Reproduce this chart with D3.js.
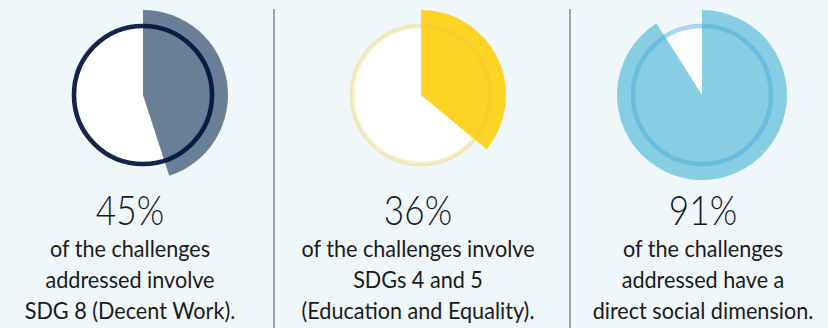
<!DOCTYPE html>
<html>
<head>
<meta charset="utf-8">
<script src="https://cdn.jsdelivr.net/npm/d3@7"></script>
<style>
  html, body { margin: 0; padding: 0; background: #f0f7fb; }
  svg { display: block; }
</style>
</head>
<body>
<svg id="chart" width="828" height="328"></svg>
<script>
// Share of challenges per theme
const labels = ["45%", "36%", "91%"];
const values = [45, 36, 91];
const captions = [
  ["of the challenges", "addressed involve", "SDG 8 (Decent Work)."],
  ["of the challenges involve", "SDGs 4 and 5", "(Education and Equality)."],
  ["of the challenges", "addressed have a", "direct social dimension."]
];
const sectorColors = ["#687f96", "#ffd324", "#87cee2"];
const ringColors = ["rgba(1,21,60,0.93)", "rgba(235,196,50,0.3)", "rgba(74,168,214,0.45)"];

const svg = d3.select("#chart");
const W = 828, H = 328;

// panel layout
const pieX = [143, 421, 702];
const textX = [130, 418, 703];
const pieY = 95;
const outerR = 85;
const diskR = 69;

const angle = d3.scaleLinear().domain([0, 100]).range([0, 2 * Math.PI]);
const arc = d3.arc().innerRadius(0).outerRadius(outerR).startAngle(0);

values.forEach((v, i) => {
  const g = svg.append("g").attr("transform", `translate(${pieX[i]},${pieY})`);
  // white disk
  g.append("circle").attr("r", diskR).attr("fill", "#ffffff");
  // value sector
  g.append("path")
    .attr("d", arc({ endAngle: angle(v) }))
    .attr("fill", sectorColors[i]);
  // translucent ring over the sector
  g.append("circle")
    .attr("r", diskR)
    .attr("fill", "none")
    .attr("stroke", ringColors[i])
    .attr("stroke-width", 4.6);

  // narrowed type for a condensed look
  const big = svg.append("g").attr("transform", `translate(${textX[i]},0) scale(0.86,1)`);
  big.append("text")
    .attr("x", 0).attr("y", 225)
    .attr("text-anchor", "middle")
    .attr("font-family", "Lato, 'Open Sans', sans-serif")
    .attr("font-weight", 300)
    .attr("font-size", 41)
    .attr("fill", "#1a1a1a")
    .text(labels[i]);
  const t = svg.append("g").attr("transform", `translate(${textX[i]},0) scale(0.94,1)`);
  captions[i].forEach((line, j) => {
    t.append("text")
      .attr("x", 0).attr("y", 257 + j * 31)
      .attr("text-anchor", "middle")
      .attr("font-family", "Lato, 'Open Sans', sans-serif")
      .attr("font-size", 23)
      .attr("fill", "#1a1a1a")
      .text(line);
  });
});

// vertical separators between panels
[274, 570].forEach(x => {
  svg.append("line")
    .attr("x1", x).attr("x2", x)
    .attr("y1", 9).attr("y2", H)
    .attr("stroke", "#5a6b8a")
    .attr("stroke-width", 1.2);
});
</script>
</body>
</html>
